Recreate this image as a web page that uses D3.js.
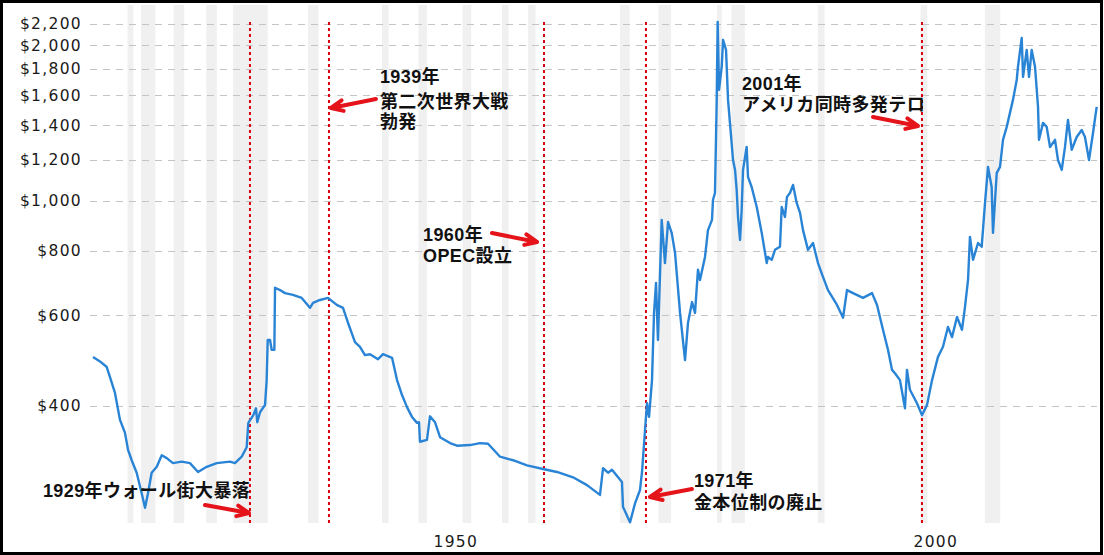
<!DOCTYPE html>
<html>
<head>
<meta charset="utf-8">
<script src="https://cdn.jsdelivr.net/npm/d3@7"></script>
<style>
body { margin: 0; background: #fff; }
svg { display: block; }
</style>
</head>
<body>
<svg width="1104" height="555"></svg>
<script>
// gold price, inflation adjusted
var goldYears = [1915.0,1915.73,1916.43,1916.77,1917.29,1917.81,1918.33,1918.65,1919.03,1919.55,
    1920.07,1920.42,1920.73,1921.11,1921.64,1922.16,1922.68,1923.33,1924.24,1925.1,
    1925.94,1926.84,1927.89,1929.27,1929.79,1930.49,1931.01,1931.18,1931.7,1931.98,
    1932.11,1932.4,1932.92,1933.09,1933.2,1933.44,1933.61,1933.89,1933.96,1934.48,
    1935.0,1935.83,1936.74,1937.6,1937.92,1938.65,1939.48,1940.39,1941.04,1941.56,
    1942.29,1942.81,1943.33,1943.85,1944.69,1945.21,1946.15,1946.67,1947.19,1947.71,
    1948.23,1948.75,1948.96,1949.06,1949.79,1950.1,1950.63,1951.15,1952.19,1952.92,
    1954.27,1955.31,1956.15,1957.4,1958.75,1960.21,1961.88,1963.33,1965.0,1966.46,
    1967.81,1968.13,1968.65,1969.06,1970.1,1970.21,1970.94,1971.46,1971.98,1972.19,
    1972.5,1972.71,1972.92,1973.23,1973.44,1973.65,1973.85,1974.24,1974.58,1974.9,
    1975.28,1975.63,1976.15,1976.67,1976.98,1977.4,1977.71,1978.02,1978.23,1978.75,
    1979.06,1979.48,1979.58,1979.79,1979.97,1980.07,1980.21,1980.49,1980.63,1980.94,
    1981.15,1981.35,1981.67,1981.88,1982.05,1982.19,1982.4,1982.57,1982.71,1983.09,
    1983.23,1983.61,1984.14,1984.66,1985.18,1985.31,1985.7,1986.04,1986.56,1986.74,
    1987.08,1987.29,1987.6,1987.92,1988.3,1988.65,1988.96,1989.48,1990.0,1990.52,
    1991.04,1991.56,1992.5,1993.13,1993.54,1994.17,1995.21,1996.15,1996.67,1997.29,
    1997.81,1998.23,1998.54,1999.06,1999.58,1999.79,2000.1,2000.83,2001.35,2001.88,
    2002.4,2003.02,2003.54,2004.06,2004.48,2005.0,2005.52,2005.83,2006.15,2006.35,
    2006.67,2007.19,2007.57,2007.92,2008.23,2008.61,2008.75,2009.14,2009.48,2009.79,
    2010.18,2010.83,2011.22,2011.35,2011.74,2011.88,2012.26,2012.5,2012.78,2013.13,
    2013.44,2013.54,2013.96,2014.34,2014.69,2015.21,2015.52,2015.91,2016.25,2016.56,
    2016.95,2017.47,2017.99,2018.33,2018.75,2019.17,2019.55];
var goldPrices = [498,488,476,455,424,376,355,329,314,297,
    271,254,271,297,305,321,317,310,312,310,
    298,305,310,312,310,319,333,371,384,396,
    372,389,402,449,537,537,514,514,678,671,
    662,657,648,620,634,642,648,628,620,580,
    532,521,502,504,493,504,496,449,420,398,
    381,371,372,341,344,382,372,348,339,335,
    336,339,338,319,314,307,302,298,291,281,
    269,303,297,301,285,255,238,259,275,298,
    359,405,381,449,606,693,537,918,757,909,
    866,792,606,491,580,636,606,735,702,778,
    877,918,1003,1035,1568,2221,1640,1816,2050,1960,
    1568,1415,1199,1147,1049,930,839,960,1147,1271,
    1112,1063,972,866,757,778,768,803,814,972,
    930,1017,1035,1073,990,947,877,803,828,757,
    712,671,628,593,671,662,648,662,628,562,
    514,470,463,449,396,470,430,405,384,402,
    449,498,521,569,544,595,562,622,702,851,
    768,828,814,990,1163,1063,866,1132,1163,1312,
    1390,1568,1714,1816,2068,1737,1960,1737,1960,1816,
    1520,1312,1415,1390,1271,1312,1199,1147,1271,1434,
    1255,1329,1371,1329,1199,1354,1520];

// US recessions (grey bands)
var recessionStart = [1918.6,1920.0,1923.4,1926.8,1929.6,1937.4,1945.1,1948.9,1953.5,1957.6,
    1960.3,1969.9,1973.9,1980.0,1981.5,1990.5,2001.2,2007.9];
var recessionEnd = [1919.2,1921.5,1924.5,1927.9,1933.2,1938.5,1945.8,1949.8,1954.4,1958.3,
    1961.1,1970.9,1975.2,1980.5,1982.9,1991.2,2001.9,2009.5];

// events: where the red dotted line stands in the picture
var eventYears = [1931.35, 1939.58, 1961.98, 1972.6, 2001.35];
var eventLines = [
    ["1929年ウォール街大暴落"],
    ["1939年", "第二次世界大戦", "勃発"],
    ["1960年", "OPEC設立"],
    ["1971年", "金本位制の廃止"],
    ["2001年", "アメリカ同時多発テロ"]
];

var yTicks = [400, 600, 800, 1000, 1200, 1400, 1600, 1800, 2000, 2200];
var xTicks = [1950, 2000];

//константы layout
var width = 1104;
var height = 555;
var plotLeft = 90;
var plotRight = 1097;
var plotTop = 5;
var plotBottom = 523;
var lineColor = "#2a84d6";
var red = "#e5131a";

var x = d3.scaleLinear().domain([1915, 2020]).range([93, 1101]);
var y = d3.scaleLog().domain([400, 2200]).range([406, 24]);

var svg = d3.select("svg");

svg.append("rect")
    .attr("width", width).attr("height", height)
    .attr("fill", "#fff");

// recession bands
svg.append("g").selectAll("rect")
    .data(recessionStart)
    .enter().append("rect")
    .attr("x", function(d) { return x(d); })
    .attr("width", function(d, i) { return x(recessionEnd[i]) - x(d); })
    .attr("y", plotTop)
    .attr("height", plotBottom - plotTop)
    .attr("fill", "#f0f0f0");

// horizontal grid
svg.append("g").selectAll("line")
    .data(yTicks)
    .enter().append("line")
    .attr("x1", plotLeft).attr("x2", plotRight)
    .attr("y1", function(d) { return Math.round(y(d)) + 0.5; })
    .attr("y2", function(d) { return Math.round(y(d)) + 0.5; })
    .attr("stroke", "#c4c4c4")
    .attr("stroke-width", 1)
    .attr("stroke-dasharray", "7,6");

// y axis labels
var yAxis = d3.axisLeft(y)
    .tickValues(yTicks)
    .tickFormat(d3.format("$,"))
    .tickSize(0)
    .tickPadding(8);
var gy = svg.append("g")
    .attr("transform", "translate(" + plotLeft + ",0)")
    .call(yAxis);
gy.select(".domain").remove();
gy.selectAll("text")
    .attr("font-family", "'DejaVu Sans', Verdana, sans-serif")
    .attr("font-size", "15.5px")
    .attr("letter-spacing", "1.3px")
    .attr("fill", "#1a1a1a");

// x axis labels
var xAxis = d3.axisBottom(x)
    .tickValues(xTicks)
    .tickFormat(d3.format("d"))
    .tickSize(0)
    .tickPadding(0);
var gx = svg.append("g")
    .attr("transform", "translate(0," + plotBottom + ")")
    .call(xAxis);
gx.select(".domain").remove();
gx.selectAll("text")
    .attr("text-anchor", "start")
    .attr("dx", 4)
    .attr("dy", 0)
    .attr("y", 24)
    .attr("font-family", "'DejaVu Sans', Verdana, sans-serif")
    .attr("font-size", "15.5px")
    .attr("letter-spacing", "1.3px")
    .attr("fill", "#1a1a1a");

// red dotted event lines
svg.append("g").selectAll("line")
    .data(eventYears)
    .enter().append("line")
    .attr("x1", function(d) { return x(d); })
    .attr("x2", function(d) { return x(d); })
    .attr("y1", 22).attr("y2", plotBottom)
    .attr("stroke", "#d9000d")
    .attr("stroke-width", 2)
    .attr("stroke-dasharray", "3,3");

// price line
var line = d3.line()
    .x(function(d, i) { return x(goldYears[i]); })
    .y(function(d) { return y(d); });

svg.append("path")
    .datum(goldPrices)
    .attr("d", line)
    .attr("fill", "none")
    .attr("stroke", lineColor)
    .attr("stroke-width", 2.4)
    .attr("stroke-linejoin", "round");

// annotations: text start offset from event line, baselines, arrow
var textDx = [-207, 51, -121, 48, -180];
var textBase = [[497], [83, 107.5, 128], [241, 261.5], [487, 508.5], [90, 110.5]];
var arrowTip = [[-1, 513], [2, 108], [-7, 242], [4, 497], [-4, 126]];
var arrowTail = [[-45, 505], [47, 99], [-52, 233], [46, 489], [-49, 117]];

eventYears.forEach(function(ev, k) {
    var ex = x(ev);
    var g = svg.append("g");
    // latin font first (smaller line box), CJK glyphs fall back to Noto
    var t = g.append("text")
        .attr("font-family", "'Liberation Sans', 'Noto Sans CJK JP', sans-serif")
        .attr("font-weight", "bold")
        .attr("font-size", "18px")
        .attr("letter-spacing", "0.4px")
        .attr("fill", "#111");
    eventLines[k].forEach(function(str, j) {
        t.append("tspan")
            .attr("x", ex + textDx[k])
            .attr("y", textBase[k][j])
            .text(str);
    });

    var tx = ex + arrowTip[k][0], ty = arrowTip[k][1];
    var sx = ex + arrowTail[k][0], sy = arrowTail[k][1];
    var ang = Math.atan2(ty - sy, tx - sx);
    var hl = 13, ha = 0.42;
    var p = "M" + sx + " " + sy + " L" + tx + " " + ty +
        " M" + (tx - hl * Math.cos(ang - ha)) + " " + (ty - hl * Math.sin(ang - ha)) +
        " L" + tx + " " + ty +
        " L" + (tx - hl * Math.cos(ang + ha)) + " " + (ty - hl * Math.sin(ang + ha));
    g.append("path")
        .attr("d", p)
        .attr("fill", "none")
        .attr("stroke", red)
        .attr("stroke-width", 4)
        .attr("stroke-linecap", "round")
        .attr("stroke-linejoin", "round");
});

// black frame
svg.append("rect")
    .attr("x", 1.5).attr("y", 1.5)
    .attr("width", 1100).attr("height", 552)
    .attr("fill", "none")
    .attr("stroke", "#000")
    .attr("stroke-width", 3);
</script>
</body>
</html>
